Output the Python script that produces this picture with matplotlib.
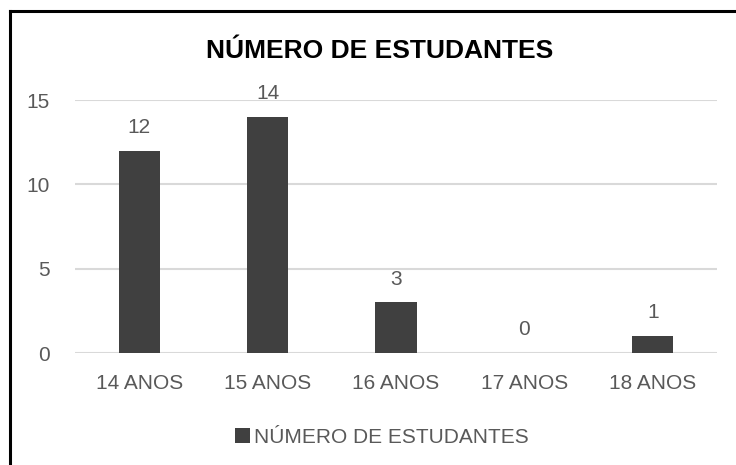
import matplotlib
matplotlib.use("Agg")
import matplotlib.pyplot as plt
from matplotlib.lines import Line2D
from matplotlib.patches import Patch

categories = ["14 ANOS", "15 ANOS", "16 ANOS", "17 ANOS", "18 ANOS"]
values = [12, 14, 3, 0, 1]
series_name = "NÚMERO DE ESTUDANTES"
yticks = [0, 5, 10, 15]

plt.rcParams['font.family'] = ['Liberation Sans', 'DejaVu Sans']

bar_color = "#404040"
text_color = "#595959"

fig = plt.figure(figsize=(7.36, 4.65), dpi=100)
ax = fig.add_axes([75/736, 112/465, 642/736, 253/465])

x = list(range(len(categories)))
bars = ax.bar(x, values, width=0.32, color=bar_color, zorder=3)
ax.set_xlim(-0.5, len(categories) - 0.5)
ax.set_ylim(0, 15)
ax.set_yticks(yticks)
ax.set_xticks(x)
ax.set_xticklabels(categories)
ax.tick_params(axis='both', length=0, colors=text_color)
ax.tick_params(axis='x', pad=15, labelsize=15)
ax.tick_params(axis='y', pad=18, labelsize=15)
ax.grid(axis='y', color="#d9d9d9", linewidth=1.5, zorder=0)
for s in ax.spines.values():
    s.set_visible(False)

for xi, v in zip(x, values):
    ax.annotate(str(v), (xi, v), xytext=(0, 10), textcoords='offset points',
                ha='center', va='bottom', fontsize=15, color=text_color, clip_on=False)

fig.text(380/736, 1 - 51/465, series_name, ha='center', va='center',
         fontsize=19, fontweight='bold', color='black')

handle = Patch(facecolor=bar_color, edgecolor='none')
fig.legend([handle], [series_name], loc='center', bbox_to_anchor=(382/736, 1 - 437/465),
           frameon=False, fontsize=15, labelcolor=text_color,
           handlelength=0.7, handleheight=0.7, handletextpad=0.2)

# outer border (top and left)
fig.add_artist(Line2D([10/736, 1], [1 - 11.5/465, 1 - 11.5/465], color='black', linewidth=2.2,
                      transform=fig.transFigure))
fig.add_artist(Line2D([10/736, 10/736], [0, 1 - 11.5/465], color='black', linewidth=2.2,
                      transform=fig.transFigure))

fig.savefig("out.png", dpi=100, facecolor='white')
